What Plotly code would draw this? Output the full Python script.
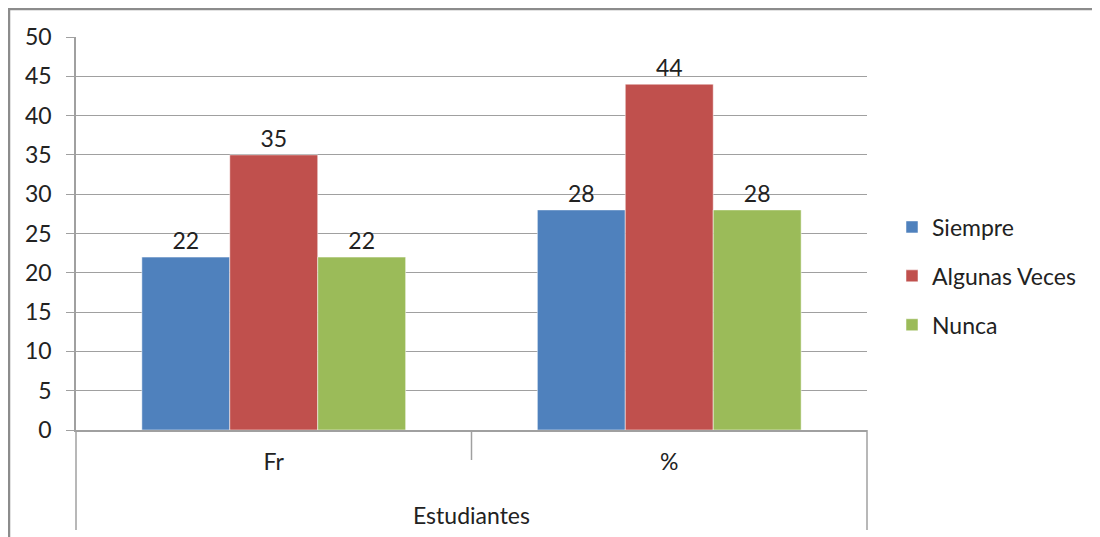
import plotly.graph_objects as go

categories = ["Fr", "%"]
series_names = ["Siempre", "Algunas Veces", "Nunca"]
siempre = [22, 28]
algunas_veces = [35, 44]
nunca = [22, 28]
colors = ["#4F81BD", "#C0504D", "#9BBB59"]
axis_title = "Estudiantes"
y_ticks = list(range(0, 55, 5))

FONT = "Lato"
FS = 23
fig = go.Figure()
for i, (name, vals) in enumerate(zip(series_names, [siempre, algunas_veces, nunca])):
    fig.add_trace(go.Bar(
        x=categories, y=vals, name=name,
        marker=dict(color=colors[i], line=dict(color="rgba(255,255,255,0.5)", width=1)),
        text=[str(v) for v in vals], textposition="outside",
        textfont=dict(family=FONT, size=FS, color="#222"),
        cliponaxis=False, legendgroup=f"g{i}",
    ))

# page has an 8px body margin; work in screen pixels and convert
OFF = 8
W, H = 1100 - OFF, 537 - OFF
L, R, T, B = 76 - OFF, 1100 - 867, 37 - OFF, 537 - 430
ph = H - T - B
pw = W - L - R

def py(sy):
    return (537 - B - sy) / ph

def px_(sx):
    return (sx - OFF - L) / pw

line_col = "#A0A0A0"
shapes = [
    # chart border (top and left)
    dict(type="line", xref="paper", yref="paper", x0=px_(8), x1=px_(1100), y0=py(9), y1=py(9),
         line=dict(color="#8C8C8C", width=2.5)),
    dict(type="line", xref="paper", yref="paper", x0=px_(9), x1=px_(9), y0=py(9), y1=py(537),
         line=dict(color="#8C8C8C", width=2.5)),
    # multi-level category dividers
    dict(type="line", xref="paper", yref="paper", x0=0, x1=0, y0=0, y1=py(530),
         line=dict(color=line_col, width=1.5)),
    dict(type="line", xref="paper", yref="paper", x0=1, x1=1, y0=0, y1=py(530),
         line=dict(color=line_col, width=1.5)),
    dict(type="line", xref="paper", yref="paper", x0=0.5, x1=0.5, y0=0, y1=py(460),
         line=dict(color=line_col, width=1.5)),
]

fig.update_layout(
    width=W, height=H,
    margin=dict(l=L, r=R, t=T, b=B, autoexpand=False),
    paper_bgcolor="white", plot_bgcolor="white",
    font=dict(family=FONT, size=FS, color="#222"),
    barmode="group", bargap=0.333, bargroupgap=0,
    showlegend=True,
    legend=dict(x=px_(892), xanchor="left", y=py(276), yanchor="middle",
                font=dict(family=FONT, size=FS, color="#222"),
                tracegroupgap=16, itemwidth=30, bgcolor="rgba(0,0,0,0)"),
    shapes=shapes,
    annotations=[dict(text=axis_title, xref="paper", yref="paper", x=0.5, y=py(515),
                      xanchor="center", yanchor="middle", showarrow=False,
                      font=dict(family=FONT, size=FS, color="#222"))],
)
fig.update_xaxes(showgrid=False, ticks="", showline=True, linecolor=line_col, linewidth=1.5,
                 ticklabelstandoff=11, tickfont=dict(family=FONT, size=FS, color="#222"))
fig.update_yaxes(range=[0, 50], tickvals=y_ticks, showgrid=True, gridcolor=line_col, gridwidth=1.2,
                 showline=True, linecolor=line_col, linewidth=1.5, ticks="outside", ticklen=8,
                 tickcolor=line_col, tickwidth=1.2, ticklabelstandoff=10, zeroline=False,
                 tickfont=dict(family=FONT, size=FS, color="#222"))

fig.write_html("out.html")
